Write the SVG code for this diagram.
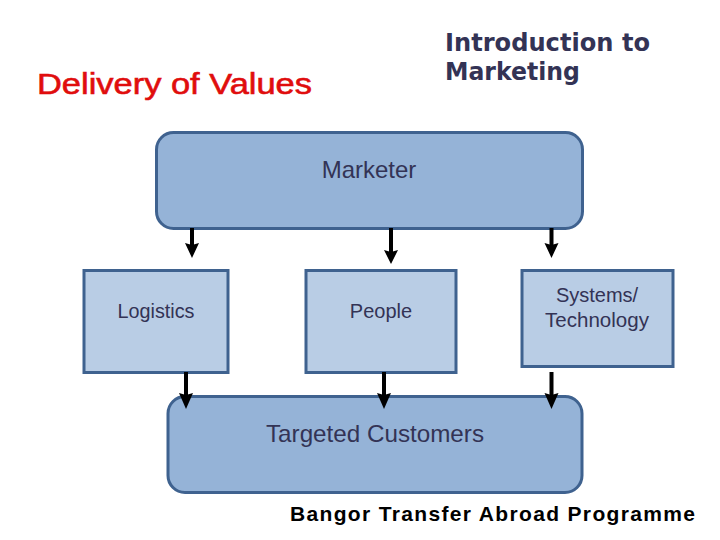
<svg xmlns="http://www.w3.org/2000/svg" width="720" height="540" viewBox="0 0 720 540">
<style>
.r{fill:#95b3d7;stroke:#3f628f;stroke-width:3}
.b{fill:#b9cde5;stroke:#3f628f;stroke-width:3}
.t{font-family:"Liberation Sans",Arial,sans-serif;fill:#333355;text-anchor:middle}
.s{font-size:20px}
.l{font-size:24px}
.c{stroke:#000;stroke-width:4;fill:none}
.h{fill:#000}
</style>
<rect width="720" height="540" fill="#fff"/>
<text x="37" y="94" font-family="'Liberation Sans',Arial,sans-serif" font-size="30" fill="#e00d0d" stroke="#e00d0d" stroke-width="0.6" textLength="275" lengthAdjust="spacingAndGlyphs">Delivery of Values</text>
<g font-family="'DejaVu Sans',sans-serif" font-size="24" font-weight="bold" fill="#333355">
<text x="445" y="51" textLength="205" lengthAdjust="spacingAndGlyphs">Introduction to</text>
<text x="445" y="80" textLength="135" lengthAdjust="spacingAndGlyphs">Marketing</text>
</g>
<g id="marketer"><rect class="r" x="156.500" y="132.500" width="426" height="96" rx="17"/><text class="t l" x="369" y="178">Marketer</text></g>
<g id="logistics"><rect class="b" x="84" y="270.500" width="144" height="102"/><text class="t s" x="156" y="318" textLength="77" lengthAdjust="spacingAndGlyphs">Logistics</text></g>
<g id="people"><rect class="b" x="306" y="270.500" width="150" height="102"/><text class="t s" x="381" y="318">People</text></g>
<g id="systems"><rect class="b" x="522" y="270.500" width="151" height="96"/><text class="t s" x="597" y="302">Systems/</text><text class="t s" x="597" y="327" textLength="104" lengthAdjust="spacingAndGlyphs">Technology</text></g>
<g id="customers"><rect class="r" x="168" y="396.500" width="414" height="96" rx="17"/><text class="t l" x="375" y="442" textLength="218" lengthAdjust="spacingAndGlyphs">Targeted Customers</text></g>
<g id="connectors">
<path class="c" d="M192 228V248M391 228V254M551.500 228V248M186 372V396M384 372V396M551.500 372V396"/>
<path class="h" d="M185 243L192 258L199 243L192 245ZM384 250L391 264L398 250L391 252ZM544.500 243L551.500 258L558.500 243L551.500 245ZM179 393L186 409L193 393L186 395ZM377 393L384 409L391 393L384 395ZM544.500 393L551.500 409L558.500 393L551.500 395Z"/>
</g>
<text x="290" y="521" font-family="'Liberation Sans',Arial,sans-serif" font-size="21" font-weight="bold" fill="#000" textLength="405">Bangor Transfer Abroad Programme</text>
</svg>
